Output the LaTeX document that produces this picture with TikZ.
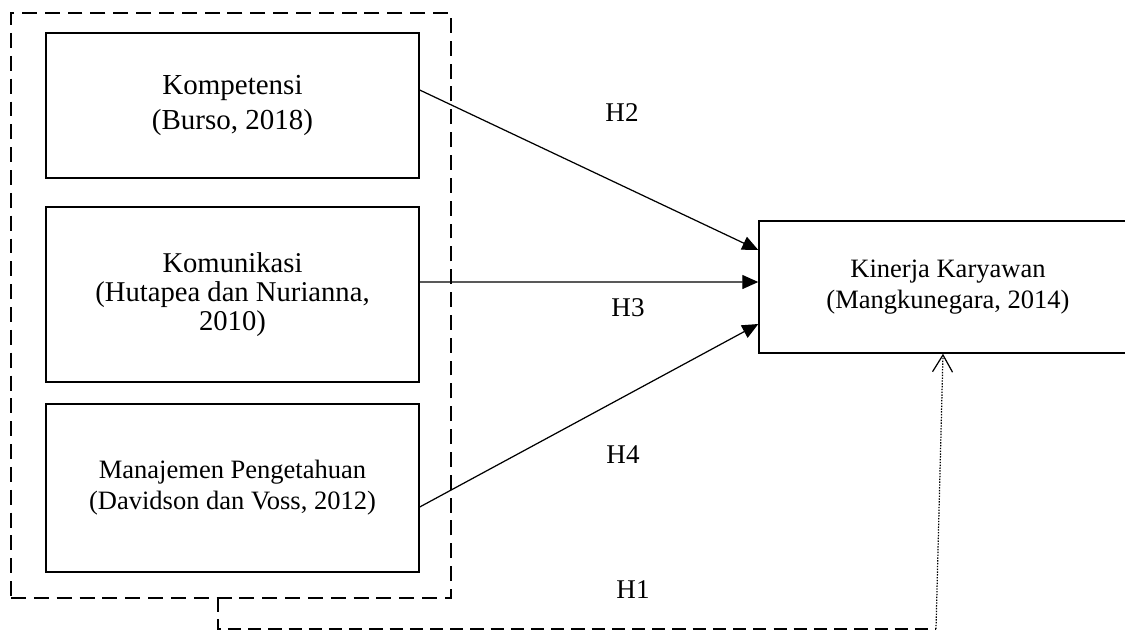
\documentclass[tikz,border=0pt]{standalone}
\usepackage{fontspec}
\setmainfont{Liberation Serif}
\usetikzlibrary{arrows.meta}

\tikzset{
    varbox/.style={draw, line width=0.85pt, minimum width=7.46cm, align=center, inner sep=0pt},
    grupbox/.style={draw, line width=0.7pt, dash pattern=on 8.5pt off 4.5pt, minimum width=8.8cm, minimum height=11.7cm},
    panah/.style={line width=0.7pt, -{Triangle[length=0.32cm, width=0.28cm]}},
    hlabel/.style={font=\fontsize{15.4}{18}\selectfont}
}

\begin{document}
\begin{tikzpicture}[x=0.02cm, y=-0.02cm]
    \useasboundingbox (0,0) rectangle (1125,630);

    % Variabel bebas
    \node[grupbox] (grup) at (231,305.5) {};
    \node[varbox, minimum height=2.9cm, font=\fontsize{16.5}{20}\selectfont] (komp) at (232.5,105.5) {Kompetensi\\ (Burso, 2018)};
    \node[varbox, minimum height=3.5cm, font=\fontsize{16.3}{16.3}\selectfont] (komu) at (232.5,294.5) {Komunikasi\\ (Hutapea dan Nurianna,\\ 2010)};
    \node[varbox, minimum height=3.36cm, font=\fontsize{15.1}{17.6}\selectfont] (mana) at (232.5,488) {Manajemen Pengetahuan\\ (Davidson dan Voss, 2012)};

    % Variabel terikat
    \node[varbox, minimum width=7.56cm, minimum height=2.64cm, font=\fontsize{15.1}{18}\selectfont] (kin) at (948,287) {Kinerja Karyawan\\ (Mangkunegara, 2014)};

    % Hipotesis
    \draw[panah] ([yshift=0.31cm]komp.east) -- ([yshift=0.74cm]kin.west);
    \draw[panah] ([yshift=0.25cm]komu.east) -- ([yshift=0.1cm]kin.west);
    \draw[panah] ([yshift=-0.38cm]mana.east) -- ([yshift=-0.74cm]kin.west);

    \coordinate (belok) at (218,629);
    \coordinate (ujung) at (936,629);
    \draw[line width=0.7pt, dash pattern=on 7.5pt off 4pt] (grup.south -| belok) -- (belok) -- (ujung);
    \draw[line width=0.7pt, dash pattern=on 0.8pt off 0.8pt, -{Straight Barb[length=0.34cm, width=0.4cm]}] (ujung) -- ([xshift=-0.1cm]kin.south);

    \node[hlabel] (h2) at (622,113) {H2};
    \node[hlabel] (h3) at (628,308) {H3};
    \node[hlabel] (h4) at (623,455) {H4};
    \node[hlabel] (h1) at (633,590) {H1};
\end{tikzpicture}
\end{document}
